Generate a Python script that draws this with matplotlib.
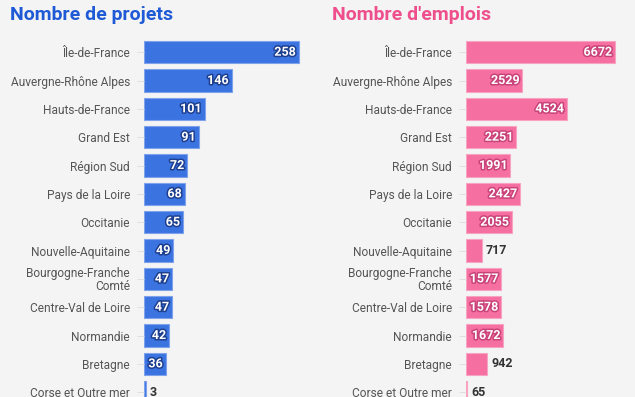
import matplotlib

matplotlib.use("Agg")
import matplotlib.pyplot as plt  # noqa: E402
import matplotlib.patheffects as pe  # noqa: E402

plt.rcParams["font.family"] = ["Roboto", "DejaVu Sans"]

regions = [
    "Île-de-France",
    "Auvergne-Rhône Alpes",
    "Hauts-de-France",
    "Grand Est",
    "Région Sud",
    "Pays de la Loire",
    "Occitanie",
    "Nouvelle-Aquitaine",
    "Bourgogne-Franche\nComté",
    "Centre-Val de Loire",
    "Normandie",
    "Bretagne",
    "Corse et Outre mer",
]
projets = [258, 146, 101, 91, 72, 68, 65, 49, 47, 47, 42, 36, 3]
emplois = [6672, 2529, 4524, 2251, 1991, 2427, 2055, 717, 1577, 1578, 1672, 942, 65]

BG = "#f4f4f4"
W, H = 635, 397

fig = plt.figure(figsize=(W / 100, H / 100), dpi=100, facecolor=BG)


def px_axes(x0, y0, w, h):
    """Axes placed in figure pixels (top-left origin)."""
    return fig.add_axes([x0 / W, 1 - (y0 + h) / H, w / W, h / H])


def panel(ax, values, color, edge, stroke, xmax, title, title_x, title_color):
    ax.set_facecolor(BG)
    y = list(range(len(values)))
    ax.barh(y, values, height=0.78, color=color, edgecolor=edge, linewidth=0.8)
    ax.set_xlim(0, xmax)
    ax.set_ylim(12.17, -0.5)
    ax.set_yticks(y)
    ax.set_yticklabels(regions, fontsize=8.6, color="#555555", linespacing=1.0)
    ax.tick_params(axis="y", length=5, width=0.6, color="#dddddd", pad=5)
    ax.set_xticks([])
    for s in ax.spines.values():
        s.set_visible(False)

    fig.canvas.draw()
    renderer = fig.canvas.get_renderer()
    x_per_px = xmax / (ax.get_window_extent().width)
    for yi, v in zip(y, values):
        t = ax.text(v, yi, str(v), fontsize=9, fontweight="bold", va="center", ha="right")
        tw = t.get_window_extent(renderer).width
        bar_px = v / x_per_px
        if bar_px > tw + 3:
            t.set_x(v - 3 * x_per_px)
            t.set_color("white")
            t.set_path_effects([pe.withStroke(linewidth=2.2, foreground=stroke)])
        else:
            t.set_x(v + 4 * x_per_px)
            t.set_ha("left")
            t.set_color("#333333")
    fig.text(title_x / W, 1 - 15 / H, title, fontsize=14, fontweight="bold",
             color=title_color, va="center", ha="left")


ax1 = px_axes(144, 38, 170, H - 38)
panel(ax1, projets, "#3b73e0", "#7ea3ec", "#1d3f8f", 170 / 0.6,
      "Nombre de projets", 10, "#1f5ad6")

ax2 = px_axes(466, 38, 165, H - 38)
panel(ax2, emplois, "#f56fa1", "#f9a3c2", "#c9437a", 165 / 0.02233,
      "Nombre d'emplois", 332, "#ee4f8c")

fig.savefig("out.png", dpi=100, facecolor=BG)
